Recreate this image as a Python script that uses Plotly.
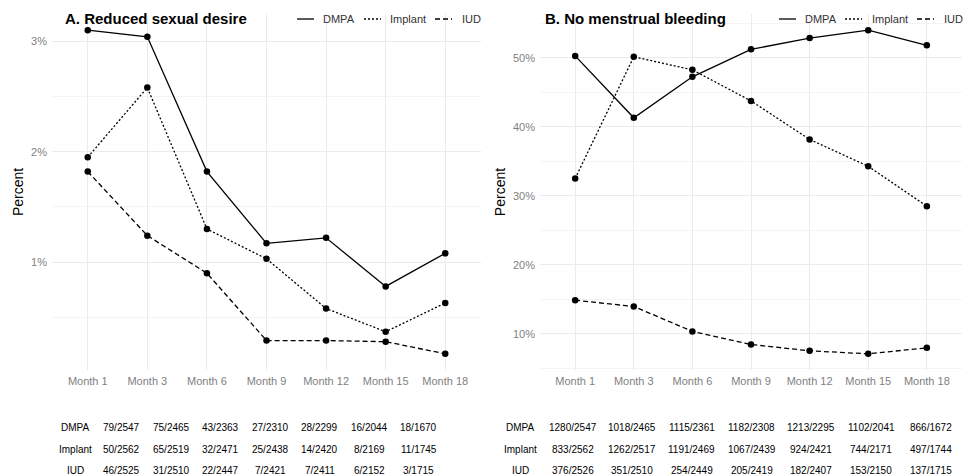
import plotly.graph_objects as go

W, H = 972, 476

months = ["Month 1", "Month 3", "Month 6", "Month 9", "Month 12", "Month 15", "Month 18"]
methods = ["DMPA", "Implant", "IUD"]

# Panel A: reduced sexual desire (%)
a_dmpa = [3.10, 3.04, 1.82, 1.17, 1.22, 0.78, 1.08]
a_implant = [1.95, 2.58, 1.30, 1.03, 0.58, 0.37, 0.63]
a_iud = [1.82, 1.24, 0.90, 0.29, 0.29, 0.28, 0.17]

# Panel B: no menstrual bleeding (%)
b_dmpa = [50.26, 41.30, 47.23, 51.21, 52.85, 53.99, 51.79]
b_implant = [32.51, 50.14, 48.24, 43.75, 38.17, 34.27, 28.50]
b_iud = [14.89, 13.98, 10.37, 8.47, 7.56, 7.12, 7.99]

# Count tables
a_tab_dmpa = ["79/2547", "75/2465", "43/2363", "27/2310", "28/2299", "16/2044", "18/1670"]
a_tab_implant = ["50/2562", "65/2519", "32/2471", "25/2438", "14/2420", "8/2169", "11/1745"]
a_tab_iud = ["46/2525", "31/2510", "22/2447", "7/2421", "7/2411", "6/2152", "3/1715"]

b_tab_dmpa = ["1280/2547", "1018/2465", "1115/2361", "1182/2308", "1213/2295", "1102/2041", "866/1672"]
b_tab_implant = ["833/2562", "1262/2517", "1191/2469", "1067/2439", "924/2421", "744/2171", "497/1744"]
b_tab_iud = ["376/2526", "351/2510", "254/2449", "205/2419", "182/2407", "153/2150", "137/1715"]

FONT = "Liberation Sans, Arial, sans-serif"
dashes = {"DMPA": "solid", "Implant": "2px,2px", "IUD": "5px,3px"}

fig = go.Figure()

def add_panel(series, xa, ya):
    for name, vals in zip(methods, series):
        fig.add_trace(go.Scatter(
            x=months, y=vals, mode="lines+markers", name=name,
            line=dict(color="black", width=1.3, dash=dashes[name]),
            marker=dict(color="black", size=6.5),
            xaxis=xa, yaxis=ya, showlegend=False,
        ))

add_panel([a_dmpa, a_implant, a_iud], "x", "y")
add_panel([b_dmpa, b_implant, b_iud], "x2", "y2")

def px(x):
    return x / W

def py(y):
    return 1 - y / H

y_dom = [py(370), py(14)]
grid = "#ebebeb"
minor_grid = "#f4f4f4"
tick_col = "#7f7f7f"

xcommon = dict(type="category", range=[-0.6, 6.6], showgrid=True, gridcolor=grid, gridwidth=1,
               zeroline=False, showline=False, ticks="", ticklabelstandoff=3,
               tickfont=dict(family=FONT, size=11, color=tick_col))
ycommon = dict(showgrid=True, gridcolor=grid, gridwidth=1, zeroline=False, showline=False,
               ticks="", ticklabelstandoff=4, automargin=False,
               tickfont=dict(family=FONT, size=11, color=tick_col),
               title=dict(text="Percent", font=dict(family=FONT, size=14, color="black"), standoff=4))

fig.update_layout(
    width=W, height=H,
    margin=dict(l=0, r=0, t=0, b=0),
    paper_bgcolor="white", plot_bgcolor="white",
    xaxis=dict(domain=[px(52), px(481)], anchor="y", **xcommon),
    yaxis=dict(domain=y_dom, anchor="x", range=[0.0235, 3.2465],
               tickvals=[1, 2, 3], ticktext=["1%", "2%", "3%"],
               minor=dict(tickvals=[0.5, 1.5, 2.5], showgrid=True, gridcolor=minor_grid, gridwidth=0.8),
               **ycommon),
    xaxis2=dict(domain=[px(540), px(962)], anchor="y2", **xcommon),
    yaxis2=dict(domain=y_dom, anchor="x2", range=[4.78, 56.33],
                tickvals=[10, 20, 30, 40, 50], ticktext=["10%", "20%", "30%", "40%", "50%"],
                minor=dict(tickvals=[5, 15, 25, 35, 45, 55], showgrid=True, gridcolor=minor_grid, gridwidth=0.8),
                **ycommon),
    showlegend=False,
)

annotations = []
shapes = []

# Titles
annotations.append(dict(text="<b>A. Reduced sexual desire</b>", x=px(63), y=py(19), xref="paper", yref="paper",
                        xanchor="left", yanchor="middle", showarrow=False,
                        font=dict(family=FONT, size=15, color="black")))
annotations.append(dict(text="<b>B. No menstrual bleeding</b>", x=px(543), y=py(19), xref="paper", yref="paper",
                        xanchor="left", yanchor="middle", showarrow=False,
                        font=dict(family=FONT, size=15, color="black")))

# Manual legends
def legend(line_x, text_x):
    for name, lx, tx in zip(methods, line_x, text_x):
        shapes.append(dict(type="line", xref="paper", yref="paper", x0=px(lx), x1=px(lx + 17),
                           y0=py(19), y1=py(19), line=dict(color="black", width=1.3, dash=dashes[name])))
        annotations.append(dict(text=name, x=px(tx), y=py(19), xref="paper", yref="paper",
                                xanchor="left", yanchor="middle", showarrow=False,
                                font=dict(family=FONT, size=11, color="#333333")))

legend([297, 364, 435], [321, 388, 460])
legend([779, 845, 917], [803, 870, 942])

# Tables
def table(label_x, col_x0, col_step, rows):
    for (name, vals), ry in zip(zip(methods, rows), [427, 449, 470]):
        annotations.append(dict(text=name, x=px(label_x), y=py(ry), xref="paper", yref="paper",
                                xanchor="center", yanchor="middle", showarrow=False,
                                font=dict(family=FONT, size=10, color="black")))
        for i, v in enumerate(vals):
            annotations.append(dict(text=v, x=px(col_x0 + i * col_step), y=py(ry), xref="paper", yref="paper",
                                    xanchor="center", yanchor="middle", showarrow=False,
                                    font=dict(family=FONT, size=10, color="black")))

table(75, 121.5, 49.5, [a_tab_dmpa, a_tab_implant, a_tab_iud])
table(520, 572.5, 59.7, [b_tab_dmpa, b_tab_implant, b_tab_iud])

fig.update_layout(annotations=annotations, shapes=shapes)

fig.write_html("out.html", config={"displayModeBar": False},
               post_script="document.body.style.margin='0';document.body.style.overflow='hidden';")
